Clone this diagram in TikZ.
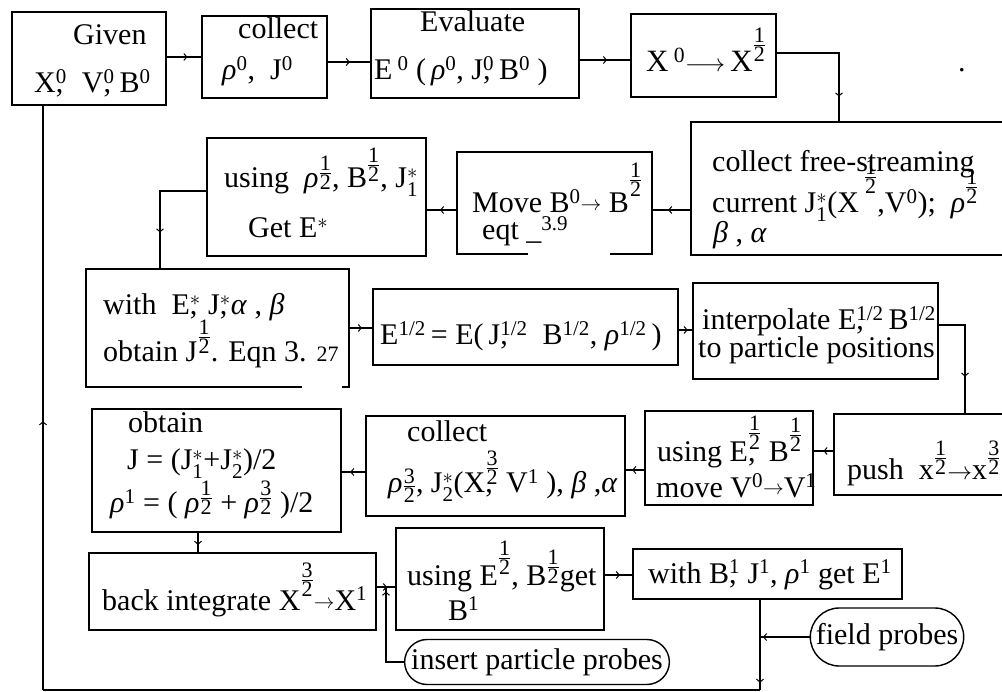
\documentclass[tikz,border=0pt]{standalone}
\usepackage{fontspec}
\setmainfont{Liberation Serif}
\usepackage{amsmath}
\usetikzlibrary{arrows.meta,decorations.markings,fit,shapes.misc}
\newcommand{\frd}[1]{\text{\fontsize{22}{22}\selectfont #1}}
\newcommand{\fr}[3][16pt]{\raisebox{#1}{$\genfrac{}{}{0.7pt}{1}{\frd{#2}}{\frd{#3}}$}}
\newcommand{\ssc}[2]{$^{#1}_{\text{#2}}$}
\newcommand{\rr}{\textit{ρ}}
\newcommand{\ra}{\raisebox{2pt}{\fontsize{21}{21}\selectfont$\rightarrow$}}
\begin{document}
\begin{tikzpicture}[x=1pt,y=-1pt,
  box/.style={draw, line width=1.4pt, inner sep=0pt},
  probe/.style={draw, line width=1.4pt, rounded rectangle, inner xsep=2pt, font=\fontsize{30}{34}\selectfont},
  txt/.style={anchor=base west, inner sep=0pt, font=\fontsize{30}{34}\selectfont},
  con/.style={line width=1.4pt},
  am/.style={postaction={decorate,decoration={markings,mark=at position #1 with {\arrow{Straight Barb[length=3pt,width=7pt,line width=1pt]}}}}}]
\useasboundingbox (0,0) rectangle (1002,692);
\clip (0,0) rectangle (1002,692);
% boxes
\node[box, fit={(12,12) (166,105)}] (b1) {};
\node[box, fit={(202,16) (327,98)}] (b2) {};
\node[box, fit={(371,9) (579,98)}] (b3) {};
\node[box, fit={(631,14) (776,97)}] (b4) {};
\node[box, fit={(691,122) (1012,255)}] (b5) {};
\node[box, fit={(457,152) (652,254)}] (b6) {};
\node[box, fit={(207,138) (426,256)}] (b7) {};
\node[box, fit={(86,269) (349,387)}] (b8) {};
\node[box, fit={(373,289) (678,365)}] (b9) {};
\node[box, fit={(693,283) (938,379)}] (b10) {};
\node[box, fit={(834,414) (1012,495)}] (b11) {};
\node[box, fit={(645,411) (813,505)}] (b12) {};
\node[box, fit={(366,416) (625,516)}] (b13) {};
\node[box, fit={(92,409) (341,532)}] (b14) {};
\node[box, fit={(89,553) (376,630)}] (b15) {};
\node[box, fit={(396,528) (604,630)}] (b16) {};
\node[box, fit={(633,549) (902,599)}] (b17) {};
\node[probe, minimum width=147pt, minimum height=58pt] (fp) at (887,637) {field probes};
\node[probe, minimum width=257pt, minimum height=45pt] (ip) at (537,662) {insert particle probes};
% gaps in box borders
\draw[white, line width=3pt] (528,254) -- (610,254);
\draw[white, line width=3pt] (302,387) -- (342,387);
% texts
\node[txt] (t1a) at (73,45) {Given};
\node[txt] (t1b) at (34,93) {X\rlap{,}\textsuperscript{0}\ \ V\rlap{,}\textsuperscript{0}\,B\textsuperscript{0}};
\node[txt] (t2a) at (238,39) {collect};
\node[txt] (t2b) at (222,80) {\rr\textsuperscript{0},\ \ J\textsuperscript{0}};
\node[txt] (t3a) at (420,32) {Evaluate};
\node[txt] (t3b) at (374,80) {E\,\textsuperscript{0}\ (\,\rr\textsuperscript{0}, J\rlap{,}\textsuperscript{0}\,B\textsuperscript{0}\ )};
\node[txt, font=\fontsize{31}{34}\selectfont] (t4) at (646,72) {X\,\textsuperscript{0}$\longrightarrow$\,X\fr[20pt]{1}{2}};
\node[txt] (t5a) at (712,172) {collect free-streaming};
\node[txt] (t5b) at (712,213) {current J\ssc{*}{1}(X\,\fr[29pt]{1}{2},V\textsuperscript{0});\ \ \rr\fr[19pt]{1}{2}};
\node[txt] (t5c) at (713,243) {\textit{β} , \textit{α}};
\node[txt] (dot) at (958,72) {.};
\node[txt] (t6a) at (472,213) {Move B\textsuperscript{0}\ra\ B\fr[26pt]{1}{2}};
\node[txt] (t6b) at (482,240) {eqt \_\textsuperscript{3.9}};
\node[txt] (t7a) at (224,188) {using\ \ \rr\fr[8pt]{1}{2}, B\fr[16pt]{1}{2}, J\ssc{*}{1}};
\node[txt] (t7b) at (248,238) {Get E$^{*}$};
\node[txt] (t8a) at (103,315) {with\ \ E\rlap{,}$^{*}$\ J\rlap{,}$^{*}$\textit{α}\ , \textit{β}};
\node[txt] (t8b) at (103,362) {obtain J\fr[18pt]{1}{2}. Eqn 3. {\fontsize{22}{24}\selectfont 27}};
\node[txt] (t9) at (380,345) {E\textsuperscript{1/2}\,= E(\,J\rlap{,}\textsuperscript{1/2}\ \ B\textsuperscript{1/2}, \rr\textsuperscript{1/2}\,)};
\node[txt] (t10a) at (702,330) {interpolate E\rlap{,}\textsuperscript{1/2}\,B\textsuperscript{1/2}};
\node[txt] (t10b) at (698,358) {to particle positions};
\node[txt] (t11) at (847,480) {push\ \ x\fr[15pt]{1}{2}$\rightarrow$x\fr[15pt]{3}{2}};
\node[txt] (t12a) at (657,462) {using E\rlap{,}\fr[22pt]{1}{2}\ B\fr[20pt]{1}{2}};
\node[txt] (t12b) at (656,497) {move V\textsuperscript{0}\ra V\textsuperscript{1}};
\node[txt] (t13a) at (407,442) {collect};
\node[txt] (t13b) at (388,493) {\rr\fr[0pt]{3}{2}, J\ssc{*}{2}(X\rlap{,}\fr[18pt]{3}{2}\ V\textsuperscript{1} ), \textit{β} ,\textit{α}};
\node[txt] (t14a) at (128,433) {obtain};
\node[txt] (t14b) at (127,470) {J = (J\ssc{*}{1}+J\ssc{*}{2})/2};
\node[txt] (t14c) at (110,513) {\rr\textsuperscript{1} = ( \rr\fr[8pt]{1}{2} + \rr\fr[8pt]{3}{2} )/2};
\node[txt] (t15) at (102,610) {back integrate X\fr[23pt]{3}{2}\ra X\textsuperscript{1}};
\node[txt] (t16a) at (407,585) {using E\fr[20pt]{1}{2}, B\fr[11pt]{1}{2}get};
\node[txt] (t16b) at (448,620) {B\textsuperscript{1}};
\node[txt] (t17) at (648,583) {with B\rlap{,}\textsuperscript{1} J\textsuperscript{1}, \rr\textsuperscript{1}\ get E\textsuperscript{1}};
% coordinates
\coordinate (c1) at (760,690);
\coordinate (c2) at (43,690);
\coordinate (c3) at (386,587);
% connectors
\draw[con, am=0.6] (b1.east |- 0,57) -- (b2.west |- 0,57);
\draw[con, am=0.52] (b2.east |- 0,62) -- (b3.west |- 0,62);
\draw[con, am=0.54] (b3.east |- 0,60) -- (b4.west |- 0,60);
\draw[con, am=0.81] (b4.east |- 0,53) -| (b5.north -| 839,0);
\draw[con, am=0.59] (b5.west |- 0,210) -- (b6.east |- 0,210);
\draw[con, am=0.55] (b6.west |- 0,210) -- (b7.east |- 0,210);
\draw[con, am=0.71] (b7.west |- 0,191) -| (b8.north -| 160,0);
\draw[con, am=0.54] (b8.east |- 0,328) -- (b9.west |- 0,328);
\draw[con, am=0.66] (b9.east |- 0,330) -- (b10.west |- 0,330);
\draw[con, am=0.68] (b10.east |- 0,325) -| (b11.north -| 965,0);
\draw[con, am=0.5] (b11.west |- 0,451) -- (b12.east |- 0,451);
\draw[con, am=0.65] (b12.west |- 0,470) -- (b13.east |- 0,470);
\draw[con, am=0.64] (b13.west |- 0,472) -- (b14.east |- 0,472);
\draw[con, am=0.62] (b14.south -| 198,0) -- (b15.north -| 198,0);
\draw[con, am=0.55] (b15.east |- c3) -- (b16.west |- c3);
\draw[con, am=0.55] (b16.east |- 0,575) -- (b17.west |- 0,575);
\draw[con, am=0.92] (b17.south -| c1) -- (c1);
\draw[con] (c1) -- (c2);
\draw[con, am=0.46] (c2) -- (b1.south -| c2);
\draw[con, am=0.94] (fp.west) -- (fp.west -| c1);
\draw[con, am=0.95] (ip.west) -| (c3);
\end{tikzpicture}
\end{document}
